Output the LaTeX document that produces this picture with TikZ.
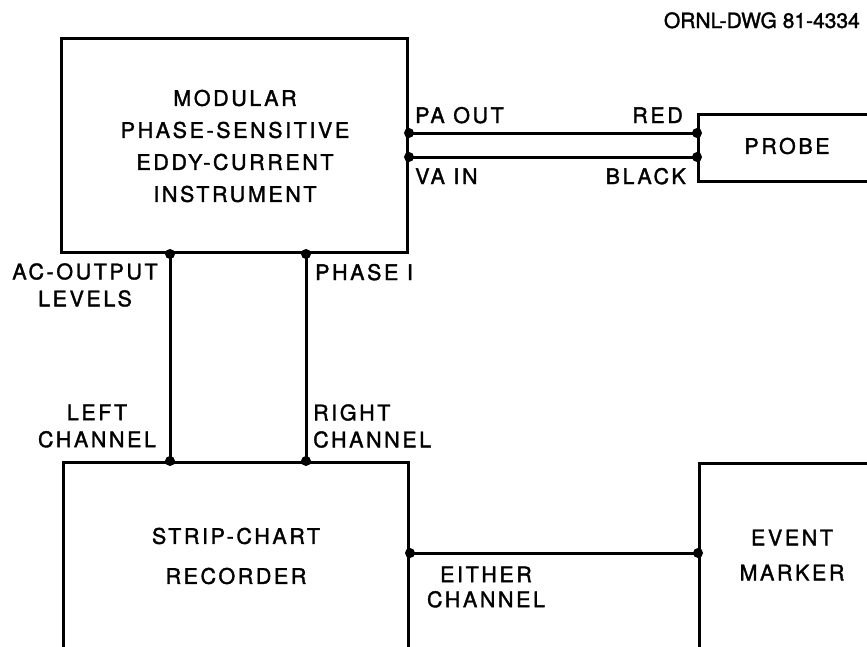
\documentclass[tikz,border=0pt]{standalone}
\usepackage{fontspec}
\setmainfont{TeX Gyre Heros}
\newfontfamily\lab[LetterSpace=12,FakeBold=1.6]{TeX Gyre Heros}
\newfontfamily\dwgfont[FakeBold=1.6]{TeX Gyre Heros}
\begin{document}
\begin{tikzpicture}[x=1pt,y=-1pt,
  wire/.style={line width=3pt},
  box/.style={draw,line width=3pt,inner sep=0pt},
  txt/.style={inner sep=0pt,font=\lab\fontsize{21.5}{24}\selectfont},
  dotc/.style={fill=black}]
\useasboundingbox (0,0) rectangle (867,646);
\clip (0,0) rectangle (867,646);
% boxes
\node[box,anchor=north west,minimum width=346pt,minimum height=214pt] (inst) at (60,37) {};
\node[box,anchor=north west,minimum width=250pt,minimum height=67pt] (probe) at (697,113) {};
\node[box,anchor=north west,minimum width=345pt,minimum height=250pt] (rec) at (62,461) {};
\node[box,anchor=north west,minimum width=250pt,minimum height=250pt] (event) at (698,462) {};
% helper coordinates
\coordinate (yPA) at (0,133);
\coordinate (yVA) at (0,157);
\coordinate (xL) at (170,0);
\coordinate (xR) at (306,0);
\coordinate (yEC) at (0,553);
% wires
\draw[wire] (inst.east |- yPA) -- (probe.west |- yPA);
\draw[wire] (inst.east |- yVA) -- (probe.west |- yVA);
\draw[wire] (inst.south -| xL) -- (rec.north -| xL);
\draw[wire] (inst.south -| xR) -- (rec.north -| xR);
\draw[wire] (rec.east |- yEC) -- (event.west |- yEC);
% dots
\foreach \p in {{inst.east |- yPA},{probe.west |- yPA},{inst.east |- yVA},{probe.west |- yVA},
  {inst.south -| xL},{rec.north -| xL},{inst.south -| xR},{rec.north -| xR},
  {rec.east |- yEC},{event.west |- yEC}}
  \fill[dotc] (\p) circle (5);
% texts
\node[inner sep=0pt,font=\dwgfont\fontsize{21}{24}\selectfont,anchor=base east] (dwg) at (860,28) {ORNL-DWG 81-4334};
\node[txt,align=center,font=\lab\fontsize{21.5}{32}\selectfont] (instt) at (235,146) {MODULAR\\PHASE-SENSITIVE\\EDDY-CURRENT\\INSTRUMENT};
\node[txt] (probet) at (787,146) {PROBE};
\node[txt,anchor=base west] (paout) at (415,123) {PA OUT};
\node[txt,anchor=base east] (red) at (683,123) {RED};
\node[txt,anchor=base west] (vain) at (415,184) {VA IN};
\node[txt,anchor=base east] (black) at (686,184) {BLACK};
\node[txt,align=center,font=\lab\fontsize{21.5}{27}\selectfont] (acout) at (85,285) {AC-OUTPUT\\LEVELS};
\node[txt,anchor=base west] (phase) at (315,280) {PHASE I};
\node[txt,align=center,font=\lab\fontsize{21.5}{27}\selectfont] (leftch) at (97,426) {LEFT\\CHANNEL};
\node[txt,align=left,anchor=west,font=\lab\fontsize{21.5}{27}\selectfont] (rightch) at (313,426) {RIGHT\\CHANNEL};
\node[txt,align=center,font=\lab\fontsize{21.5}{40}\selectfont] (rect) at (236,556) {STRIP-CHART\\RECORDER};
\node[txt,align=center,font=\lab\fontsize{21.5}{25}\selectfont] (either) at (486,587) {EITHER\\CHANNEL};
\node[txt,align=center,font=\lab\fontsize{21.5}{35}\selectfont] (eventt) at (792,555) {EVENT\\MARKER};
\end{tikzpicture}
\end{document}
